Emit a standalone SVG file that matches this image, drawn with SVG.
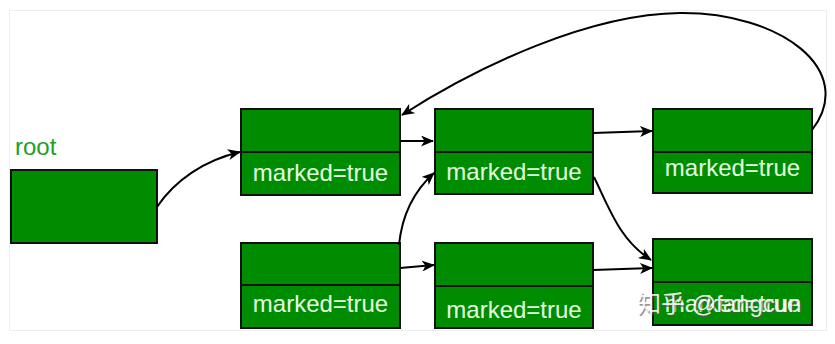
<svg xmlns="http://www.w3.org/2000/svg" width="835" height="344" viewBox="0 0 835 344">
<style>
.box{fill:#008c00;stroke:#111;stroke-width:2}
.div{stroke:#111;stroke-width:2}
.lbl{font-family:"Liberation Sans",Arial,sans-serif;font-size:24px;fill:#e4ffe0;text-anchor:middle}
.root{font-family:"Liberation Sans",Arial,sans-serif;font-size:24px;fill:#1f9e1f}
.edge{fill:none;stroke:#000;stroke-width:2;marker-end:url(#ah)}
.wm{font-family:"Liberation Sans","Noto Sans CJK SC",sans-serif;font-size:24px}
</style>
<defs>
<marker id="ah" viewBox="0 0 13 11" refX="12" refY="5.5" markerWidth="13" markerHeight="11" markerUnits="userSpaceOnUse" orient="auto">
<path d="M0,0 L13,5.5 L0,11 L3.5,5.5 z" fill="#000"/>
</marker>
</defs>
<rect x="0" y="0" width="835" height="344" fill="#fff"/>
<rect x="9.5" y="10.5" width="817" height="320" fill="none" stroke="#eeeeee" stroke-width="1"/>
<text class="root" x="15" y="155">root</text>
<g id="root-node"><rect class="box" x="11" y="170" width="146" height="73"/></g>
<g id="n1"><rect class="box" x="241" y="109" width="159" height="86"/><line class="div" x1="241" y1="152" x2="400" y2="152"/><text class="lbl" x="320.5" y="181">marked=true</text></g>
<g id="n2"><rect class="box" x="435" y="109" width="158" height="85"/><line class="div" x1="435" y1="152" x2="593" y2="152"/><text class="lbl" x="514" y="180">marked=true</text></g>
<g id="n3"><rect class="box" x="653" y="109" width="159" height="84"/><line class="div" x1="653" y1="152" x2="812" y2="152"/><text class="lbl" x="732.5" y="176">marked=true</text></g>
<g id="n4"><rect class="box" x="241" y="243" width="159" height="85"/><line class="div" x1="241" y1="285" x2="400" y2="285"/><text class="lbl" x="320.5" y="312">marked=true</text></g>
<g id="n6"><rect class="box" x="435" y="243" width="158" height="85"/><line class="div" x1="435" y1="286" x2="593" y2="286"/><text class="lbl" x="514" y="318">marked=true</text></g>
<g id="n5"><rect class="box" x="653" y="239" width="159" height="86"/><line class="div" x1="653" y1="282" x2="812" y2="282"/><text class="lbl" x="732.5" y="312">marked=true</text></g>
<g id="connectors">
<path class="edge" d="M157,207 C175,180 205,160 240,152"/>
<path class="edge" d="M400,141 L433,141"/>
<path class="edge" d="M593,133 L652,131"/>
<path class="edge" d="M812,130 C858,70 780,12 680,13 C590,14 480,65 402,115"/>
<path class="edge" d="M399,245 C402,215 415,190 434,173"/>
<path class="edge" d="M400,268 L434,265"/>
<path class="edge" d="M593,270 L652,268"/>
<path class="edge" d="M594,177 C610,210 620,240 651,260"/>
</g>
<g id="watermark">
<text class="wm" x="638.5" y="313.5" fill="#555" fill-opacity="0.6">知乎 @fangcun</text>
<text class="wm" x="637" y="312" fill="#fff" fill-opacity="0.9">知乎 @fangcun</text>
</g>
</svg>
